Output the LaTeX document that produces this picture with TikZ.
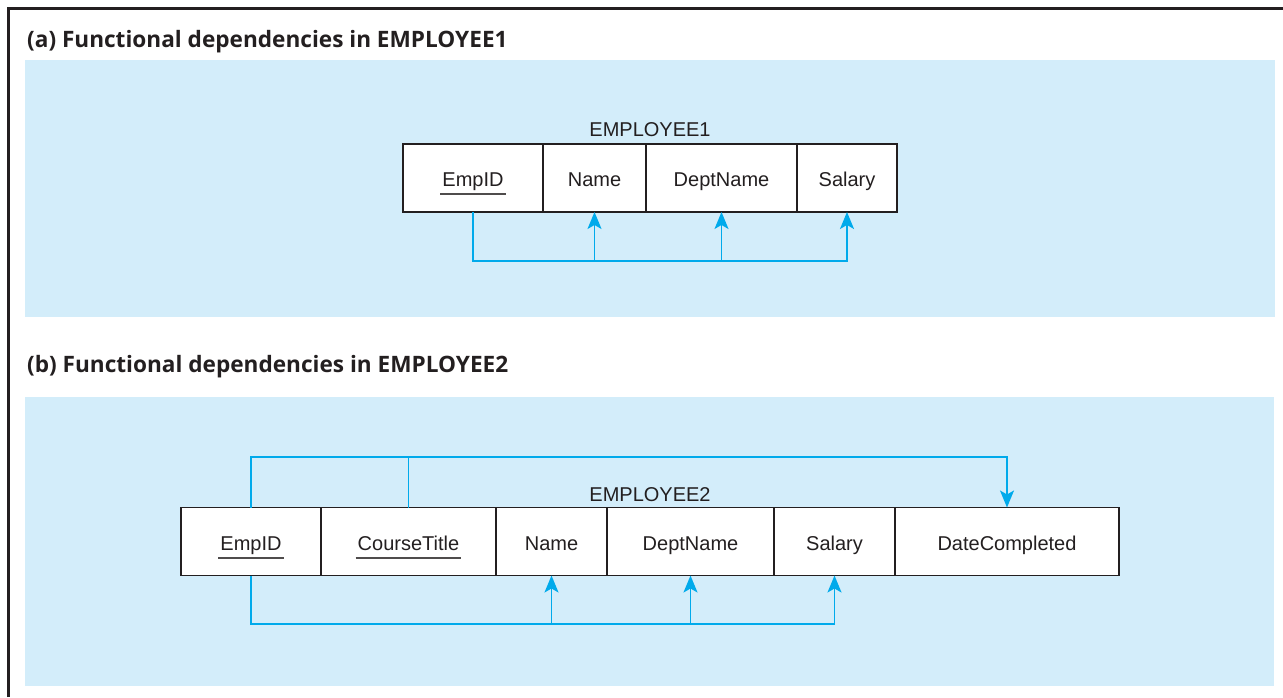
\documentclass[tikz,border=0pt]{standalone}
\usepackage{fontspec}
\setmainfont{Liberation Sans}
\newfontfamily\headfont{Open Sans}
\usetikzlibrary{arrows.meta,positioning,calc}

\definecolor{panelblue}{RGB}{211,237,250}
\definecolor{fdblue}{RGB}{0,170,235}
\definecolor{inkgray}{RGB}{35,31,32}

% primary key attribute, underlined
\newcommand{\pkey}[1]{\setbox0\hbox{#1}\rlap{\hspace{-2pt}\raisebox{-8pt}{\color{inkgray!80}\rule{\dimexpr\wd0+4pt\relax}{1.6pt}}}\box0}

\begin{document}
\begin{tikzpicture}[
    x=1pt, y=1pt,
    panel/.style={fill=panelblue, draw=none},
    heading/.style={font=\headfont\bfseries\fontsize{22.6}{27}\selectfont, text=inkgray, inner sep=0pt, anchor=base west},
    cell/.style={rectangle, draw=inkgray, line width=1.3pt, fill=white, minimum height=68pt, outer sep=0pt, inner sep=0pt,
                 text height=18pt, text depth=0pt, font=\fontsize{20}{24}\selectfont, text=inkgray},
    relname/.style={font=\fontsize{20}{24}\selectfont, text=inkgray, inner sep=0pt, anchor=base},
    dep/.style={draw=fdblue, line width=1.6pt, -{Stealth[length=17pt, width=14pt, inset=4pt]}},
    link/.style={draw=fdblue, line width=1.6pt}
]
    \useasboundingbox (0,0) rectangle (1283,697);

    % Frame and panels
    \draw[line width=3pt, inkgray] (8.5,0) -- (8.5,688.5) -- (1283,688.5);
    \path[panel] (25,380) rectangle (1275,637);
    \path[panel] (25,11) rectangle (1274,300);

    % Headings
    \node[heading] (heada) at (27,649) {(a) Functional dependencies in EMPLOYEE1};
    \node[heading] (headb) at (27,324) {(b) Functional dependencies in EMPLOYEE2};

    % EMPLOYEE1 relation
    \node[cell, minimum width=140pt, anchor=west] (a-emp) at (403,519) {\pkey{EmpID}};
    \node[cell, minimum width=103pt, right=0pt of a-emp] (a-name) {Name};
    \node[cell, minimum width=151pt, right=0pt of a-name] (a-dept) {DeptName};
    \node[cell, minimum width=100pt, right=0pt of a-dept] (a-sal) {Salary};
    \node[relname] (a-rel) at ($(a-emp.north west)!0.5!(a-sal.north east)+(0,7)$) {EMPLOYEE1};

    % EMPLOYEE2 relation
    \node[cell, minimum width=140pt, anchor=west] (b-emp) at (181,155.5) {\pkey{EmpID}};
    \node[cell, minimum width=175pt, right=0pt of b-emp] (b-course) {\pkey{CourseTitle}};
    \node[cell, minimum width=111pt, right=0pt of b-course] (b-name) {Name};
    \node[cell, minimum width=167pt, right=0pt of b-name] (b-dept) {DeptName};
    \node[cell, minimum width=121pt, right=0pt of b-dept] (b-sal) {Salary};
    \node[cell, minimum width=224pt, right=0pt of b-sal] (b-date) {DateCompleted};
    \node[relname] (b-rel) at ($(b-emp.north west)!0.5!(b-date.north east)+(0,6)$) {EMPLOYEE2};

    % Bus lines
    \coordinate (busa) at (0,436);
    \coordinate (busb) at (0,73);
    \coordinate (topb) at (0,240);

    % Dependencies in EMPLOYEE1
    \draw[dep] (a-emp.south) |- (busa -| a-sal.south) -- (a-sal.south);
    \draw[dep] (busa -| a-name.south) -- (a-name.south);
    \draw[dep] (busa -| a-dept.south) -- (a-dept.south);

    % Dependencies in EMPLOYEE2
    \draw[dep] (b-emp.north) |- (topb -| b-date.north) -- (b-date.north);
    \draw[link] (b-course.north) -- (topb -| b-course.north);
    \draw[dep] (b-emp.south) |- (busb -| b-sal.south) -- (b-sal.south);
    \draw[dep] (busb -| b-name.south) -- (b-name.south);
    \draw[dep] (busb -| b-dept.south) -- (b-dept.south);

\end{tikzpicture}
\end{document}
